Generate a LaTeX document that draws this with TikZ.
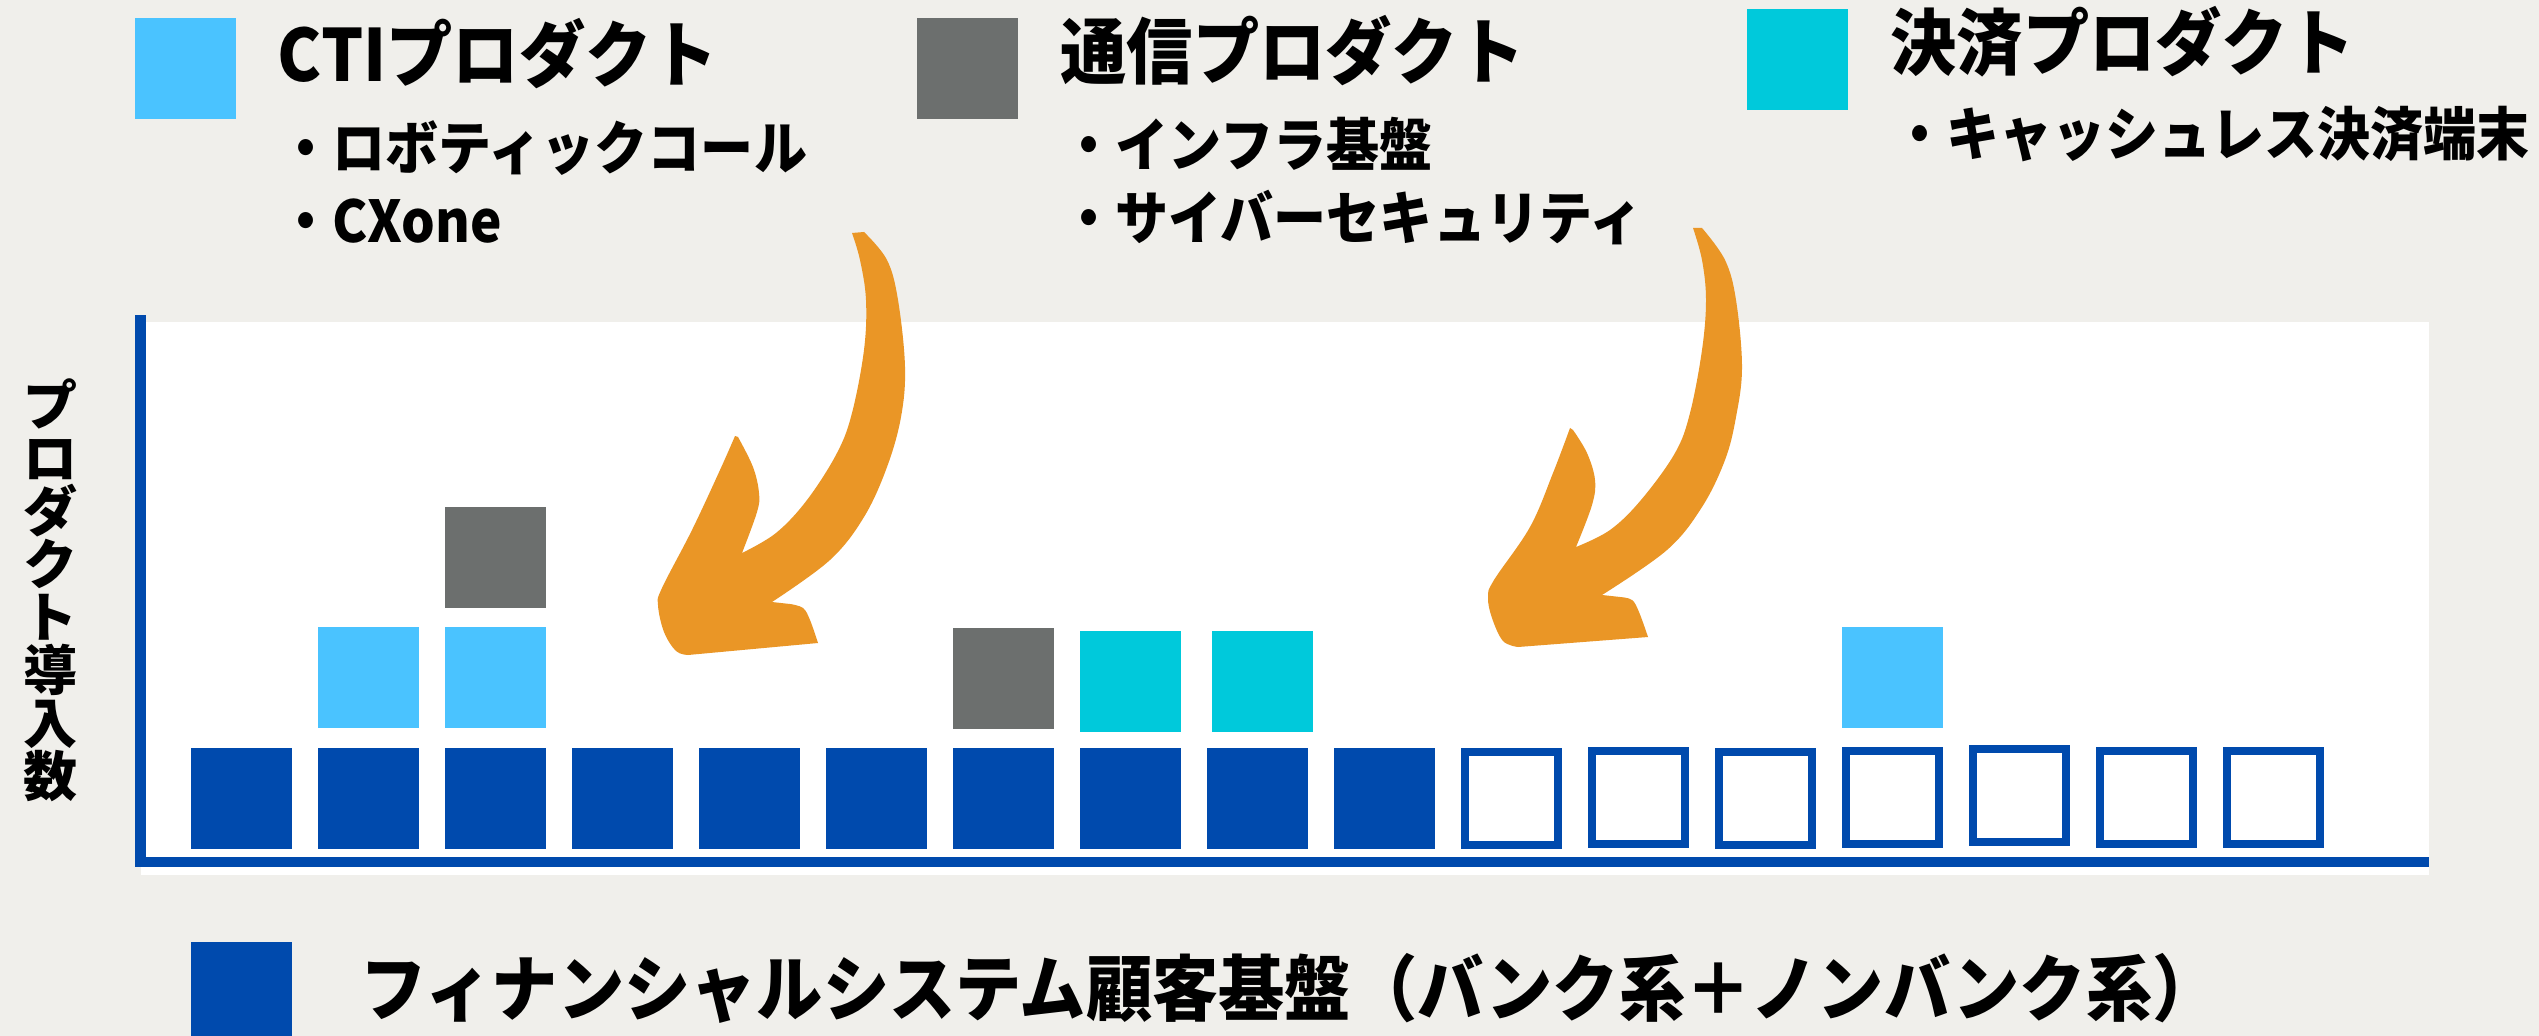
\documentclass[tikz,border=0pt]{standalone}
\usepackage{fontspec}
\newfontfamily\jp[FakeStretch=0.92]{Noto Sans CJK JP}
\newfontfamily\jpn{Noto Sans CJK JP}
\definecolor{bgc}{HTML}{F0EFEB}
\definecolor{dblue}{HTML}{004AAD}
\definecolor{lblue}{HTML}{4AC3FF}
\definecolor{pgray}{HTML}{6C6F6E}
\definecolor{pcyan}{HTML}{00C9DB}
\definecolor{porange}{HTML}{EA9626}
\lineskiplimit=-30pt
\tikzset{
  ttl/.style={anchor=base west, inner sep=0pt, font=\jp\bfseries\fontsize{21.6}{26}\selectfont},
  itm/.style={anchor=base west, inner sep=0pt, font=\jp\bfseries\fontsize{17.3}{21}\selectfont},
  openbox/.style={draw=dblue, line width=2.4pt, fill=white},
}
\begin{document}
\begin{tikzpicture}[x=0.3pt,y=-0.3pt]
\fill[bgc] (0,0) rectangle (2539,1036);
\useasboundingbox (0,0) rectangle (2539,1036);

% chart area
\fill[white] (141,322) rectangle (2429,875);
\fill[dblue] (135,315) rectangle (146,867);
\fill[dblue] (135,857) rectangle (2429,867);

% legend squares
\fill[lblue] (135,18) rectangle ++(101,101);
\fill[pgray] (917,18) rectangle ++(101,101);
\fill[pcyan] (1747,9) rectangle ++(101,101);
\fill[dblue] (191,942) rectangle ++(101,101);

% legend texts
\node[ttl] (t1) at (277,82) {CTIプロダクト};
\node[itm] (t1a) at (279,170) {・ロボティックコール};
\node[itm] (t1b) at (279,243) {・CXone};
\node[ttl] (t2) at (1060,79) {通信プロダクト};
\node[itm] (t2a) at (1062,167) {・インフラ基盤};
\node[itm] (t2b) at (1062,240) {・サイバーセキュリティ};
\node[ttl] (t3) at (1890,70) {決済プロダクト};
\node[itm] (t3a) at (1893,156) {・キャッシュレス決済端末};
\node[ttl] (t4) at (360,1015) {フィナンシャルシステム顧客基盤（バンク系＋ノンバンク系）};

% y label
\node[align=center, inner sep=0pt, font=\jpn\bfseries\fontsize{16.2}{15.9}\selectfont] (ylab) at (51,590) {プ\\ロ\\ダ\\ク\\ト\\導\\入\\数};

% bottom row: filled
\foreach \i in {0,...,9} {
  \fill[dblue] ({191+127*\i},748) rectangle ++(101,101);
}
% bottom row: open
\foreach \i/\dy in {10/0,11/-1,12/0,13/-1,14/-3,15/-1,16/-1} {
  \draw[openbox] ({191+127*\i+4},{748+\dy+4}) rectangle ++(93,93);
}
% second row
\fill[lblue] (318,627) rectangle ++(101,101);
\fill[lblue] (445,627) rectangle ++(101,101);
\fill[pgray] (953,628) rectangle ++(101,101);
\fill[pcyan] (1080,631) rectangle ++(101,101);
\fill[pcyan] (1212,631) rectangle ++(101,101);
\fill[lblue] (1842,627) rectangle ++(101,101);
% third row
\fill[pgray] (445,507) rectangle ++(101,101);

% left arrow
\fill[porange]
  plot[smooth, tension=0.6] coordinates {(864,232) (887,260) (898,300) (905,367) (901,417) (887,467) (864,517) (830,560) (772,602)}
  -- (790,604)
  -- plot[smooth, tension=0.6] coordinates {(790,604) (803,608) (810,620) (818,643)}
  -- (688,655)
  -- plot[smooth, tension=0.6] coordinates {(688,655) (676,651) (664,632) (658,605) (662,588) (692,530) (720,470) (735,436)}
  -- plot[smooth, tension=0.6] coordinates {(738,437) (753,467) (759,493) (757,512) (742,553)}
  -- plot[smooth, tension=0.6] coordinates {(742,553) (776,533) (807,500) (837,453) (852,413) (864,350) (866,300) (860,260) (852,233)}
  -- cycle;

% right arrow
\fill[porange]
  plot[smooth, tension=0.6] coordinates {(1702,228) (1725,260) (1736,300) (1742,367) (1736,417) (1725,460) (1702,507) (1667,550) (1602,595)}
  -- (1620,597)
  -- plot[smooth, tension=0.6] coordinates {(1620,597) (1632,600) (1639,612) (1648,637)}
  -- (1518,647)
  -- plot[smooth, tension=0.6] coordinates {(1518,647) (1503,641) (1492,618) (1488,597) (1494,580) (1530,527) (1553,473) (1570,428)}
  -- plot[smooth, tension=0.6] coordinates {(1573,430) (1587,453) (1595,480) (1592,505) (1576,547)}
  -- plot[smooth, tension=0.6] coordinates {(1576,547) (1610,530) (1641,500) (1675,453) (1690,413) (1702,350) (1706,300) (1702,260) (1693,228)}
  -- cycle;
\end{tikzpicture}
\end{document}
